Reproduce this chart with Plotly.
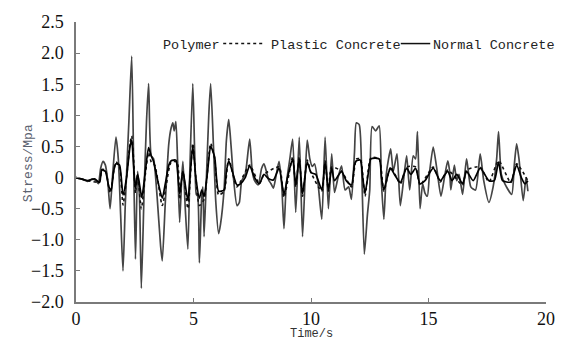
import plotly.graph_objects as go

# ---------------- data ----------------
t_normal = [0.0, 0.3, 0.5, 0.7, 0.85, 0.95, 1.05, 1.15, 1.25, 1.35, 1.45, 1.55, 1.7, 1.8, 1.9, 2.0,
            2.1, 2.25, 2.37, 2.45, 2.53, 2.62, 2.7, 2.78, 2.9, 3.0, 3.09, 3.2, 3.3, 3.45, 3.6, 3.67,
            3.8, 3.95, 4.05, 4.12, 4.18, 4.25, 4.32, 4.41, 4.5, 4.55, 4.65, 4.76, 4.85, 4.97, 5.05,
            5.12, 5.18, 5.25, 5.35, 5.4, 5.45, 5.55, 5.65, 5.73, 5.85, 5.95, 6.07, 6.15, 6.3, 6.4,
            6.5, 6.6, 6.7, 6.85, 6.95, 7.05, 7.2, 7.39, 7.5, 7.6, 7.75, 7.9, 8.0, 8.1, 8.2, 8.3, 8.4,
            8.5, 8.64, 8.75, 8.85, 8.95, 9.1, 9.22, 9.35, 9.5, 9.64, 9.75, 9.84, 9.95, 10.05, 10.15,
            10.3, 10.46, 10.6, 10.74, 10.88, 11.0, 11.15, 11.3, 11.45, 11.6, 11.72, 11.85, 11.93,
            12.05, 12.15, 12.27, 12.4, 12.5, 12.6, 12.75, 12.9, 13.0, 13.1, 13.2, 13.3, 13.39, 13.5,
            13.66, 13.8, 13.95, 14.07, 14.2, 14.35, 14.45, 14.53, 14.64, 14.75, 14.85, 14.95, 15.05,
            15.2, 15.35, 15.53, 15.7, 15.82, 15.9, 15.95, 16.1, 16.2, 16.3, 16.45, 16.62, 16.8, 17.0,
            17.2, 17.35, 17.57, 17.75, 17.9, 17.98, 18.1, 18.25, 18.54, 18.65, 18.75, 18.85, 19.03,
            19.15, 19.23]
normal = [0.0, -0.03, -0.06, -0.02, -0.05, -0.1, 0.15, 0.26, 0.2, -0.05, -0.5, 0.0, 0.65, 0.3, -0.6, -1.5,
          -0.4, 0.9, 1.95, 0.3, -1.31, 0.1, -0.3, -1.78, -0.2, 0.9, 1.51, 0.35, 0.3, -0.3, -1.1, -1.34,
          -0.4, 0.55, 0.8, 0.88, 0.75, 0.9, 0.3, -0.72, 0.0, 0.26, -0.5, -1.15, 0.2, 1.51, 0.4,
          -0.27, -0.3, -1.37, -0.3, -0.15, -0.95, 0.0, 1.0, 1.51, 0.5, -0.4, -0.9, -0.75, -0.2, 0.6,
          0.93, 0.5, 0.0, -0.45, -0.4, -0.05, 0.05, 0.62, 0.1, -0.05, -0.12, 0.15, 0.22, 0.1, -0.04, -0.1, -0.17,
          0.0, 0.26, -0.1, -0.82, -0.1, 0.3, 0.62, -0.56, 0.65, -0.95, 0.0, 0.6, 0.3, 0.18, 0.22,
          -0.1, -0.67, 0.65, -0.5, 0.38, -0.24, 0.0, 0.19, -0.2, -0.15, -0.35, 0.4, 0.88,
          0.85, 0.2, -1.23, -0.6, -0.2, 0.82, 0.75, 0.83, -0.1, -0.67, 0.04, 0.3, 0.46, 0.1,
          0.38, -0.45, 0.0, 0.35, -0.2, 0.35, 0.3, 0.74, -0.5, -0.1, -0.25, -0.3, 0.1,
          0.49, 0.15, -0.3, 0.05, 0.27, 0.1, -0.2, 0.2, -0.05, 0.05, -0.27, 0.3, -0.15, -0.2,
          0.38, -0.05, -0.4, -0.15, 0.3, 0.74, 0.05, -0.1, -0.27, 0.2, 0.54, 0.3, -0.37,
          0.0, -0.22]

t_polymer = [0, 0.3, 0.5, 0.8, 1.0, 1.1, 1.25, 1.4, 1.5, 1.6, 1.7, 1.85, 2.0, 2.15, 2.3, 2.37, 2.45,
             2.53, 2.62, 2.7, 2.8, 2.95, 3.09, 3.2, 3.3, 3.45, 3.67, 3.8, 3.95, 4.05, 4.25, 4.32, 4.41,
             4.55, 4.76, 4.85, 4.97, 5.1, 5.25, 5.35, 5.45, 5.6, 5.73, 5.9, 6.07, 6.3, 6.4, 6.5, 6.65,
             6.85, 7.0, 7.2, 7.39, 7.6, 7.8, 8.0, 8.2, 8.4, 8.64, 8.85, 9.0, 9.22, 9.35, 9.5, 9.64,
             9.84, 10.0, 10.2, 10.46, 10.6, 10.74, 10.88, 11.0, 11.3, 11.5, 11.72, 11.85, 11.93, 12.1,
             12.2, 12.3, 12.45, 12.55, 12.9, 13.0, 13.1, 13.3, 13.39, 13.55, 13.8, 14.07, 14.25, 14.45,
             14.64, 14.85, 15.2, 15.5, 15.82, 16.0, 16.2, 16.45, 16.62, 16.9, 17.2, 17.57, 17.8, 17.98,
             18.15, 18.5, 18.75, 18.95, 19.1, 19.23]
polymer = [0, -0.03, -0.05, -0.02, -0.08, 0.12, 0.1, -0.15, -0.2, 0.1, 0.22, 0.2, -0.28, 0.0, 0.5, 0.6, 0.2,
           -0.17, 0.05, -0.1, -0.32, 0.1, 0.48, 0.35, 0.26, 0.0, -0.33, -0.1, 0.2, 0.27, 0.28, 0.1, -0.26,
           0.1, -0.37, 0.0, 0.5, 0.0, -0.33, -0.2, -0.3, 0.1, 0.5, 0.33, -0.22, -0.2, 0.1, 0.27, 0.1,
           -0.12, -0.1, 0.0, 0.19, 0.0, -0.1, 0.05, -0.02, -0.04, 0.15, -0.27, 0.0, 0.3, -0.12, 0.3, -0.26,
           0.25, 0.08, 0.05, -0.2, 0.25, -0.2, 0.15, -0.05, 0.1, -0.05, -0.12, 0.2, 0.27, 0.28,
           0.0, -0.25, 0.1, 0.3, 0.3, 0.0, -0.2, 0.08, 0.15, 0.05, -0.08, 0.15, 0.05, 0.15,
           -0.1, -0.05, 0.15, -0.05, 0.1, -0.05, 0.05, -0.1, 0.1, -0.05, 0.15, -0.05, -0.05, 0.25,
           -0.05, -0.07, 0.2, 0.0, -0.1, -0.05]

t_plastic = [0, 0.5, 1.0, 1.1, 1.25, 1.45, 1.7, 1.85, 2.0, 2.15, 2.3, 2.37, 2.45, 2.53, 2.62, 2.78, 2.95,
             3.09, 3.2, 3.35, 3.67, 3.85, 4.05, 4.3, 4.41, 4.55, 4.76, 4.97, 5.1, 5.25, 5.45, 5.73, 5.9,
             6.07, 6.3, 6.5, 6.85, 7.39, 7.8, 8.0, 8.64, 8.85, 9.22, 9.35, 9.5, 9.64, 9.84, 10.0, 10.46,
             10.6, 10.74, 10.88, 11.3, 11.72, 11.93, 12.1, 12.3, 12.55, 12.9, 13.1, 13.39, 13.8, 14.07,
             14.45, 14.64, 15.2, 15.5, 15.82, 16.45, 16.62, 17.2, 17.57, 17.98, 18.5, 18.75, 19.23]
plastic = [0, -0.05, -0.07, 0.13, 0.12, -0.25, 0.25, 0.18, -0.44, 0.0, 0.55, 0.67, 0.3, -0.25, 0.05, -0.5, 0.05,
           0.4, 0.25, 0.2, -0.45, -0.1, 0.25, 0.25, -0.35, 0.1, -0.5, 0.55, 0.0, -0.45, -0.35, 0.55, 0.3,
           -0.28, -0.22, 0.3, -0.15, 0.2, -0.1, 0.05, 0.17, -0.32, 0.33, -0.15, 0.33, -0.3, 0.28, 0.08, -0.22,
           0.27, -0.22, 0.17, 0.1, -0.15, 0.3, 0.3, -0.3, 0.32, 0.3, -0.22, 0.17, -0.1, 0.17,
           0.17, -0.12, 0.17, -0.07, 0.12, -0.12, 0.12, 0.17, -0.07, 0.27, -0.08, 0.22, -0.05]

y_tickvals = [2.5, 2.0, 1.5, 1.0, 0.5, 0, -0.5, -1.0, -1.5, -2.0]
y_ticktext = ["2.5", "2.0", "1.5", "1.0", "0.5", "0", "\u22120.5", "\u22121.0", "\u22121.5", "\u22122.0"]
x_tickvals = [0, 5, 10, 15, 20]
x_ticktext = ["0", "5", "10", "15", "20"]

legend_names = ["Polymer", "Plastic Concrete", "Normal Concrete"]

# ---------------- figure ----------------
fig = go.Figure()
fig.add_trace(go.Scatter(x=t_normal, y=normal, mode="lines", name=legend_names[2],
                         line=dict(color="#454545", width=1.7, shape="spline", smoothing=0.6),
                         showlegend=False))
fig.add_trace(go.Scatter(x=t_plastic, y=plastic, mode="lines", name=legend_names[1],
                         line=dict(color="#111111", width=1.6, dash="dot", shape="spline", smoothing=0.6),
                         showlegend=False))
fig.add_trace(go.Scatter(x=t_polymer, y=polymer, mode="lines", name=legend_names[0],
                         line=dict(color="#000000", width=1.7, shape="spline", smoothing=0.6),
                         showlegend=False))

axis_color = "#7a7a7a"
serif = "Liberation Serif, Times New Roman, serif"
mono = "Liberation Mono, Courier New, monospace"
tick_font = dict(family=serif, size=18, color="#111111")

fig.update_layout(font=dict(family=serif))
fig.update_xaxes(range=[0, 20], tickvals=x_tickvals, ticktext=x_ticktext,
                 showline=True, linecolor=axis_color, linewidth=1.5,
                 ticks="inside", ticklen=4, tickcolor=axis_color, tickwidth=1.2,
                 showgrid=False, zeroline=False, tickfont=tick_font,
                 ticklabelstandoff=0)
fig.update_yaxes(range=[-2.0, 2.5], tickvals=y_tickvals, ticktext=y_ticktext,
                 showline=True, linecolor=axis_color, linewidth=1.5,
                 ticks="inside", ticklen=4, tickcolor=axis_color, tickwidth=1.2,
                 showgrid=False, zeroline=False, tickfont=tick_font,
                 ticklabelstandoff=7)

# legend drawn as text + sample lines (paper coords)
leg_y_text = 0.916
leg_y_line = 0.923
annots = [
    dict(text=legend_names[0], x=0.1816, y=leg_y_text, xanchor="left"),
    dict(text=legend_names[1], x=0.4113, y=leg_y_text, xanchor="left"),
    dict(text=legend_names[2], x=0.7557, y=leg_y_text, xanchor="left"),
]
for a in annots:
    fig.add_annotation(xref="paper", yref="paper", yanchor="middle", showarrow=False,
                       font=dict(family=mono, size=13.5, color="#222222"), **a)
fig.add_shape(type="line", xref="paper", yref="paper", x0=0.3132, x1=0.4008,
              y0=leg_y_line, y1=leg_y_line, line=dict(color="#111111", width=1.5, dash="dot"))
fig.add_shape(type="line", xref="paper", yref="paper", x0=0.691, x1=0.7537,
              y0=leg_y_line, y1=leg_y_line, line=dict(color="#111111", width=1.5))

# axis titles
fig.add_annotation(xref="paper", yref="paper", x=0.501, y=-0.1429, text="Time/s", showarrow=False,
                   xanchor="center", yanchor="bottom", borderpad=0,
                   font=dict(family=mono, size=12, color="#333333"))
fig.add_annotation(xref="paper", yref="paper", x=-0.1023, y=0.495, text="Stress/Mpa", showarrow=False,
                   xanchor="center", yanchor="middle", textangle=-90,
                   font=dict(family=mono, size=13, color="#5b6270"))

fig.update_layout(width=567, height=343, margin=dict(l=76, r=12, t=15, b=41),
                  plot_bgcolor="white", paper_bgcolor="white", showlegend=False)

fig.write_html("out.html")
